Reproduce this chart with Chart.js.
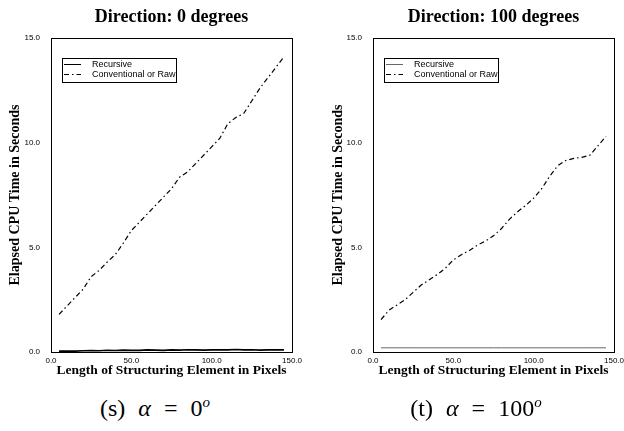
<!DOCTYPE html>
<html>
<head>
<meta charset="utf-8">
<script src="https://cdn.jsdelivr.net/npm/chart.js@4"></script>
<style>
  body { margin: 0; background: #fff; width: 624px; height: 431px; overflow: hidden; position: relative; }
  canvas { position: absolute; top: 0; }
  .cap { position: absolute; top: 394px; text-align: center; font-family: 'Liberation Serif', serif; font-size: 24px; word-spacing: 7px; color: #000; }
  .cap sup { font-size: 15px; }
</style>
</head>
<body>
<div style="position:absolute; left:0; top:0; width:343px; height:385px;"><canvas id="chart-s"></canvas></div>
<div style="position:absolute; left:312px; top:0; width:363px; height:385px;"><canvas id="chart-t"></canvas></div>
<div class="cap" style="left:0; width:310px;">(s) <i>α</i> = 0<sup><i>o</i></sup></div>
<div class="cap" style="left:320px; width:312px;">(t) <i>α</i> = 100<sup><i>o</i></sup></div>
<script>
// structuring element length in pixels
let elem_lengths = [5, 10, 15, 20, 25, 30, 35, 40, 45, 50, 55, 60, 65, 70, 75, 80, 85, 90, 95, 100, 105, 110, 115, 120, 125, 130, 135, 140, 145];

// direction 0 degrees
let raw_dir0 = [1.8, 2.2, 2.6, 3.0, 3.6, 3.9, 4.3, 4.65, 5.2, 5.8, 6.2, 6.6, 7.0, 7.4, 7.8, 8.35, 8.6, 9.0, 9.4, 9.8, 10.2, 10.9, 11.2, 11.4, 12.0, 12.6, 13.1, 13.6, 14.1];
let rec_dir0 = [0.04, 0.05, 0.04, 0.06, 0.07, 0.06, 0.08, 0.07, 0.09, 0.08, 0.08, 0.10, 0.09, 0.08, 0.10, 0.09, 0.11, 0.10, 0.09, 0.10, 0.11, 0.10, 0.12, 0.10, 0.11, 0.09, 0.10, 0.11, 0.10];

// direction 100 degrees
let raw_dir100 = [1.55, 2.0, 2.25, 2.5, 2.85, 3.2, 3.45, 3.7, 4.0, 4.4, 4.65, 4.85, 5.1, 5.3, 5.55, 5.9, 6.35, 6.7, 7.0, 7.35, 7.8, 8.4, 8.9, 9.15, 9.25, 9.3, 9.4, 9.85, 10.3];
let rec_dir100 = [0.2, 0.2, 0.2, 0.2, 0.2, 0.2, 0.2, 0.2, 0.2, 0.2, 0.2, 0.2, 0.2, 0.2, 0.2, 0.2, 0.2, 0.2, 0.2, 0.2, 0.2, 0.2, 0.2, 0.2, 0.2, 0.2, 0.2, 0.2, 0.2];

let x_ticks = [0, 50, 100, 150];
let y_ticks = [0, 5, 10, 15];

const serif = "'Liberation Serif', 'Times New Roman', serif";
const sans = "'Liberation Sans', Arial, sans-serif";

// boxed legend inside the plot, top-left
const boxLegend = {
    id: 'boxLegend',
    afterDraw(chart) {
        let ctx = chart.ctx;
        let a = chart.chartArea;
        let bx = a.left + 11, by = a.top + 20, bw = 114, bh = 24;
        ctx.save();
        ctx.fillStyle = '#fff';
        ctx.fillRect(bx, by, bw, bh);
        ctx.strokeStyle = '#000';
        ctx.lineWidth = 1;
        ctx.setLineDash([]);
        ctx.strokeRect(bx + 0.5, by + 0.5, bw, bh);
        ctx.font = '9px ' + sans;
        ctx.textBaseline = 'middle';
        chart.data.datasets.forEach((ds, i) => {
            let yy = by + 6.5 + i * 10;
            ctx.strokeStyle = ds.borderColor;
            ctx.lineWidth = 1;
            ctx.setLineDash(ds.borderDash || []);
            ctx.beginPath();
            ctx.moveTo(bx + 2, yy);
            ctx.lineTo(bx + 19, yy);
            ctx.stroke();
            ctx.fillStyle = '#000';
            ctx.fillText(ds.label, bx + 30, yy + 0.5);
        });
        ctx.restore();
    }
};

function make_chart(id, title, raw, rec, rec_color, rec_width, y_width, y_title_pad, right_width) {
    let ctx = document.getElementById(id);
    return new Chart(ctx, {
        type: 'line',
        data: {
            datasets: [
                {
                    label: 'Recursive',
                    data: elem_lengths.map((x, i) => ({ x: x, y: rec[i] })),
                    borderColor: rec_color,
                    borderWidth: rec_width,
                    pointRadius: 0,
                    tension: 0,
                    fill: false,
                },
                {
                    label: 'Conventional or Raw',
                    data: elem_lengths.map((x, i) => ({ x: x, y: raw[i] })),
                    borderColor: '#000',
                    borderWidth: 1.2,
                    borderDash: [5, 3, 1.5, 3],
                    pointRadius: 0,
                    tension: 0,
                    fill: false,
                }
            ],
        },
        options: {
            responsive: true,
            maintainAspectRatio: false,
            animation: false,
            events: [],
            layout: { padding: 0 },
            scales: {
                x: {
                    type: 'linear',
                    min: 0, max: 150,
                    afterBuildTicks: (s) => { s.ticks = x_ticks.map(v => ({ value: v })); },
                    afterFit: (s) => { s.height = 33; },
                    grid: { display: false, drawTicks: false, tickLength: 0 },
                    border: { display: true, color: '#000', width: 1 },
                    ticks: { padding: 4, color: '#000', maxRotation: 0, font: { family: sans, size: 8 }, callback: (v) => v.toFixed(1) },
                    title: { display: true, text: 'Length of Structuring Element in Pixels', color: '#000', padding: { top: 0, bottom: 6 }, font: { family: serif, size: 13.5, weight: 'bold' } },
                },
                x2: {
                    type: 'linear', position: 'top',
                    min: 0, max: 150,
                    afterFit: (s) => { s.height = 0; },
                    grid: { display: false, drawTicks: false, tickLength: 0 },
                    border: { display: true, color: '#000', width: 1 },
                    ticks: { display: false },
                },
                y: {
                    min: 0, max: 15,
                    afterBuildTicks: (s) => { s.ticks = y_ticks.map(v => ({ value: v })); },
                    afterFit: (s) => { s.width = y_width; },
                    grid: { display: false, drawTicks: false, tickLength: 0 },
                    border: { display: true, color: '#000', width: 1 },
                    ticks: { padding: 11, color: '#000', font: { family: sans, size: 8 }, callback: (v) => v.toFixed(1) },
                    title: { display: true, text: 'Elapsed CPU Time in Seconds', color: '#000', padding: { top: y_title_pad, bottom: 0 }, font: { family: serif, size: 14, weight: 'bold' } },
                },
                y2: {
                    position: 'right',
                    min: 0, max: 15,
                    afterFit: (s) => { s.width = right_width; },
                    grid: { display: false, drawTicks: false, tickLength: 0 },
                    border: { display: true, color: '#000', width: 1 },
                    ticks: { display: false },
                },
            },
            plugins: {
                legend: { display: false },
                tooltip: { enabled: false },
                title: {
                    display: true,
                    text: title,
                    color: '#000',
                    padding: { top: 7, bottom: 9.4 },
                    font: { family: serif, size: 18, weight: 'bold' },
                },
            },
        },
        plugins: [boxLegend],
    });
}

make_chart('chart-s', 'Direction: 0 degrees', raw_dir0, rec_dir0, '#000', 1.6, 51, 7, 51);
make_chart('chart-t', 'Direction: 100 degrees', raw_dir100, rec_dir100, '#666', 1, 61, 18, 61);
</script>
</body>
</html>
